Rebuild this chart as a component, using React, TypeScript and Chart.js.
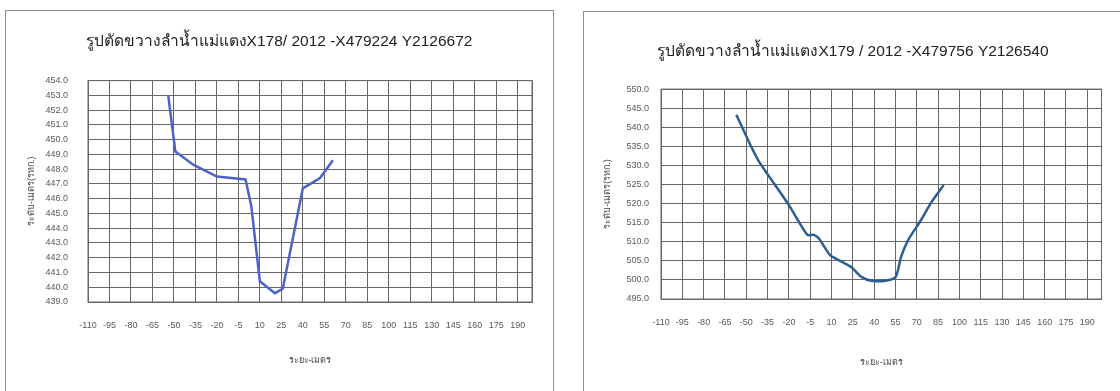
import React, { useEffect, useRef } from 'react';
import { Chart, registerables } from 'chart.js';

Chart.register(...registerables);

// ---- data ----
const xTickValues = [-110, -95, -80, -65, -50, -35, -20, -5, 10, 25, 40, 55, 70, 85, 100, 115, 130, 145, 160, 175, 190];
const xMin = -110;
const xMax = 200;

const xAxisTitle = 'ระยะ-เมตร';
const yAxisTitle = 'ระดับ-เมตร(รทก.)';

const leftTitle = 'รูปตัดขวางลำน้ำแม่แตงX178/ 2012 -X479224 Y2126672';
const leftYTicks = [439, 440, 441, 442, 443, 444, 445, 446, 447, 448, 449, 450, 451, 452, 453, 454];
const leftDistance = [-54, -49, -36.5, -20, 0, 4, 10, 20.5, 26, 40, 52, 61];
const leftLevel = [453.0, 449.2, 448.3, 447.5, 447.3, 445.5, 440.4, 439.6, 439.9, 446.7, 447.4, 448.6];

const rightTitle = 'รูปตัดขวางลำน้ำแม่แตงX179 / 2012 -X479756 Y2126540';
const rightYTicks = [495, 500, 505, 510, 515, 520, 525, 530, 535, 540, 545, 550];
const rightDistance = [-57, -47, -41, -20, -7, -2.5, 1, 9, 15, 24, 31, 38, 48, 55, 59, 64, 73, 80, 89];
const rightLevel = [543.3, 535.3, 531.0, 519.6, 511.8, 511.8, 510.9, 506.5, 505.2, 503.3, 500.8, 499.8, 499.8, 500.7, 506.1, 510.5, 515.7, 520.2, 524.9];

const GRID = '#666666';
const TICK_COLOR = '#595959';
const TICK_FONT = { family: 'Liberation Sans', size: 9 };

type PanelProps = {
  left: number; top: number; width: number; height: number;
  title: string; distance: number[]; level: number[]; yTicks: number[];
  color: string; tension: number;
  padLeft: number; padRight: number; yAxisWidth: number; xAxisHeight: number;
  titlePadTop: number; titlePadBottom: number;
  yTickPad: number; yTitlePad: number; xTickPad: number; xTitlePad: number;
};

function Panel(p: PanelProps) {
  const ref = useRef<HTMLCanvasElement | null>(null);
  useEffect(() => {
    if (!ref.current) return;
    const pts = p.distance.map((d, i) => ({ x: d, y: p.level[i] }));
    const chart = new Chart(ref.current, {
      type: 'scatter',
      data: {
        datasets: [{
          data: pts,
          showLine: true,
          borderColor: p.color,
          borderWidth: 2.5,
          pointRadius: 0,
          tension: p.tension,
          fill: false,
        }],
      },
      options: {
        responsive: false,
        animation: false,
        layout: { padding: { left: p.padLeft, right: p.padRight, top: 0, bottom: 0 } },
        plugins: {
          legend: { display: false },
          tooltip: { enabled: false },
          title: {
            display: true,
            text: p.title,
            color: '#222',
            font: { family: 'Liberation Sans', size: 15.5, weight: 'normal' },
            padding: { top: p.titlePadTop, bottom: p.titlePadBottom },
          },
        },
        scales: {
          x: {
            type: 'linear',
            min: xMin,
            max: xMax,
            afterBuildTicks: (scale: any) => {
              scale.ticks = [...xTickValues, xMax].map((v) => ({ value: v }));
            },
            afterFit: (scale: any) => { scale.height = p.xAxisHeight; },
            ticks: {
              color: TICK_COLOR,
              font: TICK_FONT,
              padding: p.xTickPad,
              maxRotation: 0,
              autoSkip: false,
              callback: (v: any) => (v === xMax ? '' : String(v)),
            },
            grid: { color: GRID, lineWidth: 1, drawTicks: false },
            border: { display: true, color: GRID, width: 1 },
            title: {
              display: true,
              text: xAxisTitle,
              color: '#444',
              font: { family: 'Liberation Sans', size: 9 },
              padding: { top: 0, bottom: p.xTitlePad },
            },
          },
          y: {
            type: 'linear',
            min: p.yTicks[0],
            max: p.yTicks[p.yTicks.length - 1],
            afterBuildTicks: (scale: any) => {
              scale.ticks = p.yTicks.map((v) => ({ value: v }));
            },
            afterFit: (scale: any) => { scale.width = p.yAxisWidth; },
            ticks: {
              color: TICK_COLOR,
              font: TICK_FONT,
              padding: p.yTickPad,
              autoSkip: false,
              callback: (v: any) => Number(v).toFixed(1),
            },
            grid: { color: GRID, lineWidth: 1, drawTicks: false },
            border: { display: true, color: GRID, width: 1 },
            title: {
              display: true,
              text: yAxisTitle,
              color: '#444',
              font: { family: 'Liberation Sans', size: 9 },
              padding: { top: p.yTitlePad, bottom: 0 },
            },
          },
        },
      },
      plugins: [{
        id: 'plotFrame',
        afterDraw(c: any) {
          const a = c.chartArea;
          const ctx = c.ctx;
          ctx.save();
          ctx.strokeStyle = GRID;
          ctx.lineWidth = 1;
          ctx.strokeRect(a.left, a.top, a.right - a.left, a.bottom - a.top);
          ctx.restore();
        },
      }],
    } as any);
    return () => chart.destroy();
  }, []);
  return (
    <canvas
      ref={ref}
      width={p.width}
      height={p.height}
      style={{ position: 'absolute', left: p.left, top: p.top, width: p.width, height: p.height }}
    />
  );
}

export default function App() {
  return (
    <div style={{ position: 'fixed', left: 0, top: 0, width: 1120, height: 391, overflow: 'hidden', background: '#fff' }}>
      <div style={{ position: 'absolute', left: 5, top: 10, width: 549, height: 400, border: '1.5px solid #8e8e8e', boxSizing: 'border-box' }} />
      <div style={{ position: 'absolute', left: 583, top: 11, width: 560, height: 400, border: '1.5px solid #8e8e8e', boxSizing: 'border-box' }} />
      <Panel
        left={5} top={10} width={548} height={381}
        title={leftTitle} distance={leftDistance} level={leftLevel} yTicks={leftYTicks}
        color="#4d63c6" tension={0}
        padLeft={21} padRight={21} yAxisWidth={62} xAxisHeight={89}
        titlePadTop={22} titlePadBottom={30}
        yTickPad={20} yTitlePad={0} xTickPad={18.5} xTitlePad={25.5}
      />
      <Panel
        left={583} top={11} width={537} height={380}
        title={rightTitle} distance={rightDistance} level={rightLevel} yTicks={rightYTicks}
        color="#2d5e92" tension={0.25}
        padLeft={19} padRight={16} yAxisWidth={59} xAxisHeight={92}
        titlePadTop={31.5} titlePadBottom={28}
        yTickPad={12} yTitlePad={0} xTickPad={18.5} xTitlePad={23.5}
      />
    </div>
  );
}
